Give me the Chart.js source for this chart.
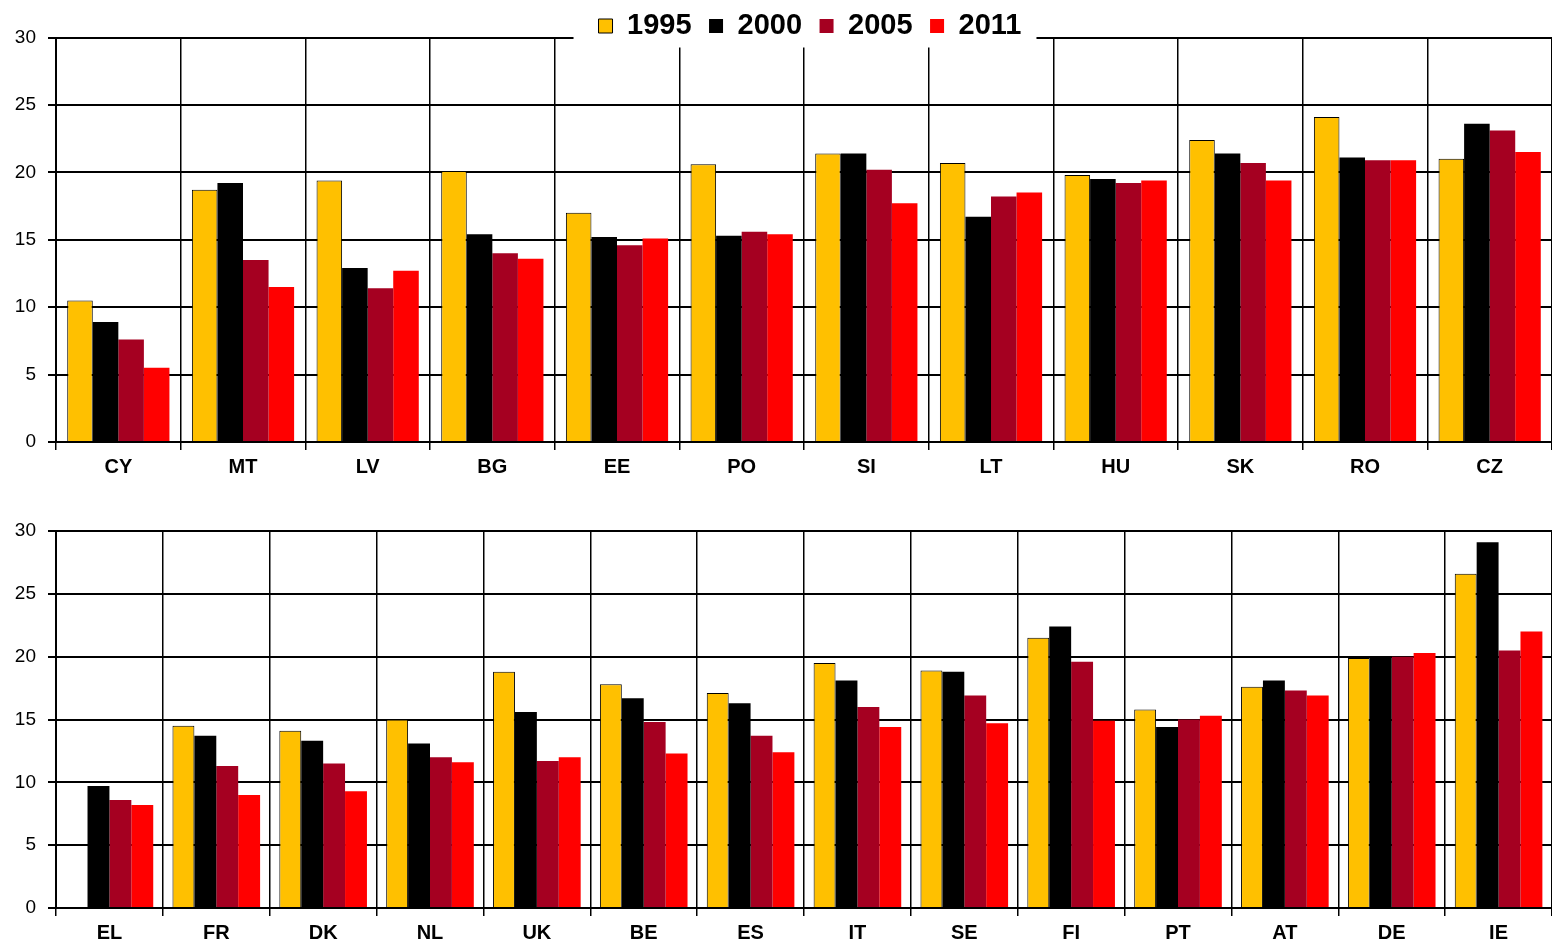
<!DOCTYPE html>
<html>
<head>
<meta charset="utf-8">
<script src="https://cdn.jsdelivr.net/npm/chart.js@4.4.0/dist/chart.umd.min.js"></script>
<style>
  body { margin: 0; background: #fff; }
  .box { position: absolute; left: 0; width: 1552px; }
  #topBox { top: 0; height: 490px; }
  #botBox { top: 488px; height: 456px; }
</style>
</head>
<body>
<div class="box" id="topBox"><canvas id="topChart"></canvas></div>
<div class="box" id="botBox"><canvas id="botChart"></canvas></div>
<script>
// values
const years = ['1995', '2000', '2005', '2011'];
const yearColors = ['#FFC000', '#000000', '#A50021', '#FF0000'];

const topCats = ['CY', 'MT', 'LV', 'BG', 'EE', 'PO', 'SI', 'LT', 'HU', 'SK', 'RO', 'CZ'];
const top1995 = [10.5, 18.7, 19.4, 20.1, 17.0, 20.6, 21.4, 20.7, 19.8, 22.4, 24.1, 21.0];
const top2000 = [8.9, 19.2, 12.9, 15.4, 15.2, 15.3, 21.4, 16.7, 19.5, 21.4, 21.1, 23.6];
const top2005 = [7.6, 13.5, 11.4, 14.0, 14.6, 15.6, 20.2, 18.2, 19.2, 20.7, 20.9, 23.1];
const top2011 = [5.5, 11.5, 12.7, 13.6, 15.1, 15.4, 17.7, 18.5, 19.4, 19.4, 20.9, 21.5];

const botCats = ['EL', 'FR', 'DK', 'NL', 'UK', 'BE', 'ES', 'IT', 'SE', 'FI', 'PT', 'AT', 'DE', 'IE'];
const bot1995 = [null, 14.5, 14.1, 15.0, 18.8, 17.8, 17.1, 19.5, 18.9, 21.5, 15.8, 17.6, 19.9, 26.6];
const bot2000 = [9.7, 13.7, 13.3, 13.1, 15.6, 16.7, 16.3, 18.1, 18.8, 22.4, 14.4, 18.1, 20.0, 29.1];
const bot2005 = [8.6, 11.3, 11.5, 12.0, 11.7, 14.8, 13.7, 16.0, 16.9, 19.6, 15.0, 17.3, 20.0, 20.5];
const bot2011 = [8.2, 9.0, 9.3, 11.6, 12.0, 12.3, 12.4, 14.4, 14.7, 14.9, 15.3, 16.9, 20.3, 22.0];

const yTicks = { min: 0, max: 30, step: 5 };

function makeDatasets(series) {
  return series.map((vals, i) => ({
    label: years[i],
    data: vals,
    backgroundColor: yearColors[i],
    borderColor: '#000',
    borderWidth: i === 0 ? 1 : 0,
    categoryPercentage: 0.82,
    barPercentage: 1.0
  }));
}

// legend sits half over the top gridline in the original: shrink its box,
// nudge it right and paint a white patch behind it
const legendPatch = {
  id: 'legendPatch',
  afterInit(chart) {
    const lg = chart.legend;
    if (!lg) return;
    const fit = lg.fit;
    lg.fit = function () {
      fit.call(this);
      if (this.options.display) this.height -= 13;
    };
  },
  afterLayout(chart) {
    const lg = chart.legend;
    if (!lg || !lg.options.display) return;
    lg.left += 6;
    lg.right += 6;
  },
  afterDraw(chart) {
    const lg = chart.legend;
    if (!lg || !lg.options.display || !lg.legendHitBoxes.length) return;
    const boxes = lg.legendHitBoxes;
    const x0 = boxes[0].left - 25;
    const last = boxes[boxes.length - 1];
    const x1 = last.left + last.width + 15;
    const ctx = chart.ctx;
    ctx.save();
    ctx.fillStyle = '#fff';
    ctx.fillRect(x0, chart.chartArea.top - 3, x1 - x0, 13);
    ctx.restore();
  }
};

function makeChart(id, cats, series, showLegend, padTop, xHeight) {
  const ctx = document.getElementById(id).getContext('2d');
  return new Chart(ctx, {
    type: 'bar',
    data: { labels: cats, datasets: makeDatasets(series) },
    options: {
      responsive: true,
      maintainAspectRatio: false,
      animation: false,
      layout: { padding: { top: padTop, right: 0, bottom: 0, left: 0 } },
      scales: {
        x: {
          grid: { color: '#000', lineWidth: 1.5, offset: true, tickLength: 8, drawTicks: true },
          border: { color: '#000', width: 2 },
          ticks: {
            color: '#000',
            padding: 5,
            font: { family: 'Liberation Sans, Arial, sans-serif', size: 20, weight: 'bold' }
          },
          afterFit: s => { s.height = xHeight; }
        },
        y: {
          min: yTicks.min,
          max: yTicks.max,
          grid: { color: '#000', lineWidth: 2, tickLength: 8 },
          border: { color: '#000', width: 2 },
          ticks: {
            stepSize: yTicks.step,
            color: '#000',
            padding: 12,
            font: { family: 'Liberation Sans, Arial, sans-serif', size: 19 }
          },
          afterFit: s => { s.width = 56; }
        }
      },
      plugins: {
        tooltip: { enabled: false },
        legend: {
          display: showLegend,
          position: 'top',
          fullSize: false,
          labels: {
            color: '#000',
            boxWidth: 14,
            boxHeight: 14,
            padding: 17.5,
            font: { family: 'Liberation Sans, Arial, sans-serif', size: 29, weight: 'bold' }
          }
        }
      }
    },
    plugins: [legendPatch]
  });
}

makeChart('topChart', topCats, [top1995, top2000, top2005, top2011], true, -6, 48);
makeChart('botChart', botCats, [bot1995, bot2000, bot2005, bot2011], false, 43, 36);
</script>
</body>
</html>
